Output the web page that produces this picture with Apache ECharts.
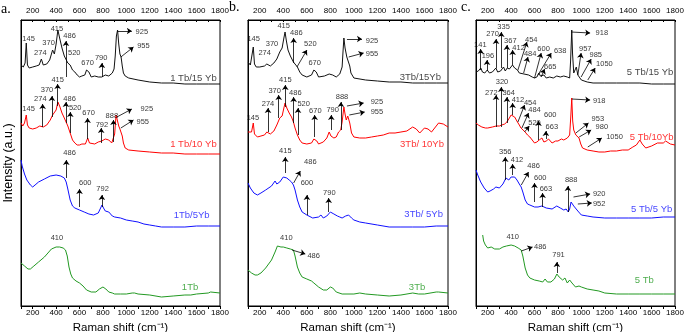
<!DOCTYPE html>
<html>
<head>
<meta charset="utf-8">
<script src="https://cdn.jsdelivr.net/npm/echarts@6/dist/echarts.min.js"></script>
<style>
  html, body { margin: 0; padding: 0; background: #fff; }
  #chart { width: 685px; height: 332px; }
</style>
</head>
<body>
<div id="chart"></div>
<script>
// Raman shift (cm-1) vs. stacked intensity (vertical offset baked in, arbitrary units)
const xLabels = [200, 400, 600, 800, 1000, 1200, 1400, 1600, 1800];

// panel a
const aBlack = [[100,241],[120,239],[135,243],[145,263],[155,241],[170,238],[200,239],[230,240],[255,241],[274,247],[290,241],[320,242],[345,246],[360,252],[370,256],[385,252],[400,262],[415,276],[430,268],[450,258],[470,250],[486,248],[500,243],[510,244],[520,241],[540,236],[560,234],[580,231],[600,229],[620,230],[645,231],[660,236],[670,238],[680,234],[700,229],[730,230],[760,229],[790,229],[820,231],[850,230],[880,233],[895,237],[905,250],[915,270],[925,276],[935,262],[945,252],[955,249],[965,240],[975,233],[990,230],[1020,228],[1100,226],[1200,224],[1300,223],[1400,223],[1500,222],[1600,222],[1700,222],[1800,222]];
const aRed = [[100,183],[115,180],[130,183],[145,191],[155,181],[170,178],[200,177],[230,178],[260,180],[274,181],[290,179],[320,181],[350,186],[370,191],[385,190],[400,196],[415,204],[430,200],[450,193],[470,188],[486,186],[500,180],[520,173],[540,166],[560,163],[580,161],[600,161],[620,162],[650,162],[670,168],[685,163],[700,161],[730,162],[760,164],[790,165],[820,167],[850,166],[875,163],[888,163],[900,172],[912,191],[925,189],[935,180],[945,177],[955,176],[965,170],[975,163],[990,158],[1020,156],[1100,155],[1200,154],[1300,153],[1400,153],[1500,152],[1600,152],[1700,152],[1800,152]];
const aBlue = [[100,146],[110,140],[130,132],[150,126],[180,121],[200,119],[220,121],[250,124],[300,127],[350,130],[400,131],[440,130],[470,128],[486,124],[500,117],[520,106],[540,100],[560,98],[600,96],[640,94],[680,92],[720,91],[760,93],[780,98],[792,101],[805,98],[820,95],[850,94],[880,90],[900,89],[950,88],[1000,86],[1050,85],[1100,84],[1150,82],[1200,81],[1250,80],[1300,79],[1400,79],[1500,79],[1600,80],[1700,80],[1800,80]];
const aGreen = [[100,43],[130,40],[160,37],[180,37],[210,40],[250,44],[300,49],[330,53],[360,57],[400,59],[430,59],[460,58],[480,56],[495,50],[510,39],[525,32],[540,28],[570,25],[600,23],[630,20],[660,16],[700,14],[740,14],[770,17],[800,19],[825,17],[850,14],[880,13],[900,12],[950,12],[1000,12],[1050,13],[1070,13],[1100,12],[1200,11],[1300,9],[1400,10],[1500,11],[1550,11],[1600,12],[1700,13],[1720,14],[1800,13]];

// panel b
const bBlack = [[100,244],[120,241],[135,241],[145,259],[155,242],[170,239],[200,239],[240,240],[260,242],[274,244],[290,240],[320,243],[345,247],[370,254],[390,258],[405,268],[415,274],[425,266],[440,256],[460,250],[486,244],[500,242],[520,239],[540,234],[560,231],[600,229],[640,231],[660,236],[670,238],[680,234],[700,229],[750,230],[790,232],[805,234],[820,231],[850,229],[880,232],[900,239],[908,255],[915,268],[925,258],[940,249],[955,248],[965,240],[975,233],[1000,228],[1100,226],[1200,225],[1300,224],[1400,224],[1500,223],[1600,223],[1700,223],[1800,223]];
const bRed = [[100,174],[115,176],[130,174],[145,183],[155,172],[180,169],[210,170],[240,171],[260,174],[274,176],[290,172],[320,175],[345,181],[370,188],[390,190],[405,198],[415,203],[430,198],[450,193],[470,189],[486,184],[500,178],[520,171],[540,166],[560,163],[600,162],[640,163],[660,167],[670,169],[685,165],[700,162],[740,164],[770,168],[790,174],[805,170],[830,168],[850,169],[870,174],[888,176],[900,184],[915,199],[925,192],[935,186],[948,190],[955,191],[965,183],[980,173],[1000,169],[1050,168],[1100,168],[1150,169],[1200,170],[1250,171],[1300,173],[1350,173],[1400,174],[1450,175],[1500,179],[1530,177],[1560,173],[1600,178],[1630,177],[1660,174],[1700,180],[1720,183],[1760,182],[1800,179]];
const bBlue = [[100,123],[120,118],[150,113],[180,111],[210,113],[250,116],[300,120],[330,125],[345,122],[370,124],[400,129],[415,131],[430,128],[450,126],[470,124],[486,121],[500,116],[520,106],[540,99],[560,94],[600,91],[650,88],[700,89],[720,91],[740,88],[770,90],[800,94],[830,92],[860,90],[880,89],[900,88],[930,90],[955,91],[980,88],[1000,86],[1050,84],[1100,83],[1200,81],[1300,79],[1400,79],[1500,79],[1600,79],[1700,80],[1800,80]];
const bGreen = [[100,36],[130,33],[160,31],[180,31],[210,33],[250,38],[300,46],[330,54],[350,60],[380,59],[400,59],[430,58],[460,57],[486,56],[500,50],[520,39],[540,33],[560,29],[600,27],[640,25],[660,23],[700,19],[740,16],[770,16],[800,19],[820,18],[850,14],[900,12],[950,12],[1000,12],[1050,13],[1100,12],[1200,11],[1300,10],[1400,11],[1500,13],[1550,12],[1600,12],[1700,14],[1720,14],[1800,13]];

// panel c
const cBlack = [[100,234],[120,235],[141,238],[155,234],[175,233],[196,236],[215,233],[240,234],[270,238],[285,234],[310,235],[335,239],[350,235],[367,238],[385,237],[400,239],[412,241],[430,238],[454,236],[470,233],[484,234],[510,232],[550,231],[580,229],[600,228],[620,229],[638,233],[650,230],[665,229],[680,231],[700,228],[730,229],[760,228],[790,230],[820,229],[850,230],[880,229],[900,228],[908,245],[918,276],[925,252],[935,233],[945,232],[957,239],[970,231],[985,229],[1000,226],[1050,224],[1100,223],[1200,223],[1300,223],[1400,223],[1500,223],[1600,222],[1700,222],[1800,222]];
const cRed = [[100,183],[120,181],[150,179],[180,178],[200,178],[240,179],[272,180],[300,180],[320,181],[345,182],[364,184],[385,188],[400,191],[412,193],[430,189],[454,184],[470,181],[484,178],[500,176],[520,174],[540,171],[560,169],[580,166],[600,163],[620,164],[640,166],[663,168],[680,164],[700,165],[720,167],[750,163],[780,165],[800,165],[830,167],[850,166],[880,168],[900,171],[910,190],[918,208],[926,185],[935,176],[953,171],[965,170],[980,168],[995,162],[1010,158],[1050,156],[1100,155],[1150,154],[1200,154],[1250,155],[1300,155],[1350,156],[1400,156],[1440,159],[1470,161],[1500,166],[1520,162],[1550,158],[1600,160],[1650,163],[1700,163],[1720,165],[1760,162],[1800,161]];
const cBlue = [[100,136],[115,131],[140,124],[170,118],[200,114],[220,115],[250,117],[270,119],[300,118],[330,122],[356,128],[380,126],[400,129],[412,131],[430,129],[450,126],[470,122],[486,119],[500,114],[520,106],[540,102],[560,101],[600,99],[630,99],[663,100],[680,98],[700,98],[750,97],[790,100],[820,98],[850,96],[870,97],[888,94],[900,97],[912,104],[920,106],[935,100],[952,98],[970,95],[1000,91],[1050,90],[1100,89],[1200,88],[1300,88],[1400,88],[1500,88],[1600,88],[1700,89],[1800,89]];
const cGreen = [[157,71],[165,65],[180,61],[200,58],[230,59],[260,57],[300,57],[330,59],[360,60],[400,61],[430,60],[460,58],[486,56],[500,50],[520,38],[540,31],[560,28],[600,26],[640,25],[670,24],[690,27],[710,24],[740,24],[770,27],[791,32],[810,29],[840,26],[860,28],[880,23],[900,26],[920,23],[950,19],[980,20],[1000,19],[1050,17],[1100,16],[1150,15],[1200,13],[1300,12],[1400,12],[1500,12],[1600,12],[1700,12],[1800,12]];

// sample names and where they sit
const aNames = [['1 Tb/15 Yb',1573,228],['1 Tb/10 Yb',1573,162],['1Tb/5Yb',1558,91],['1Tb',1544,19]];
const bNames = [['3Tb/15Yb',1565,229],['3Tb/ 10Yb',1579,162],['3Tb/ 5Yb',1593,92],['3Tb',1537,19]];
const cNames = [['5 Tb/15 Yb',1587,234],['5 Tb/10Yb',1601,169],['5 Tb/5 Yb',1601,97],['5 Tb',1538,26]];

// peak labels [text, x, y]
const aPeaks = [['145',165,267],['274',265,253],['370',336,263],['415',407,277],['486',515,270],['520',555,253],['670',669,243],['790',785,248],['925',1132,274],['955',1146,260],
  ['145',165,197],['274',265,207],['370',322,216],['415',413,226],['486',515,207],['520',563,198],['670',677,193],['792',791,181],['888',876,190],['925',1175,197],['955',1140,184],
  ['486',515,153],['600',649,123],['792',797,117],['410',407,68]];
const bPeaks = [['145',148,267],['274',242,253],['370',304,262],['415',403,280],['486',511,273],['520',630,262],['670',667,243],['925',1154,265],['955',1154,252],
  ['145',142,188],['274',270,202],['370',327,215],['415',417,226],['486',502,213],['520',573,202],['670',672,195],['790',820,196],['888',899,209],['925',1196,204],['955',1196,194],
  ['415',417,155],['486',630,144],['600',601,123],['790',791,113],['410',426,68],['486',658,50]];
const cPeaks = [['141',137,261],['196',202,250],['270',242,272],['335',336,279],['367',393,265],['412',464,258],['454',572,266],['484',563,252],['600',677,257],['638',819,255],['665',734,239],['918',1175,273],['957',1033,257],['985',1123,251],['1050',1197,242],
  ['272',231,213],['320',322,224],['364',379,213],['412',458,206],['454',563,203],['484',600,196],['520',600,183],['600',734,191],['663',748,179],['918',1152,205],['953',1141,187],['980',1175,179],['1050',1283,169],
  ['356',350,154],['412',450,146],['486',592,140],['600',649,128],['663',697,117],['888',913,126],['920',1152,112],['952',1152,102],
  ['410',413,69],['486',649,59],['791',805,51]];

// arrows [x0, y0, x1, y1]
const aArrows = [[484,229,484,265],[791,229,791,243],[924,275,1047,275],[953,249,1061,259],
  [285,179,285,202],[364,189,364,210],[413,200,413,222],[484,183,484,204],[521,173,521,194],[669,167,669,188],[785,163,785,178],[890,164,890,186],[919,189,1047,197],[953,178,1061,186],
  [487,128,487,146],[600,99,600,117],[791,99,791,111]];
const bArrows = [[488,243,488,268],[516,239,601,256],[941,267,1069,267],[956,249,1083,253],
  [270,174,270,198],[361,188,361,211],[417,199,417,221],[488,183,488,209],[525,171,525,198],[667,169,667,191],[808,176,808,191],[890,176,890,204],[941,200,1083,203],[961,191,1092,194],
  [417,133,417,149],[488,123,545,135],[601,91,601,111],[786,94,786,108],[474,56,587,52]];
const cArrows = [[140,236,140,257],[194,235,194,246],[271,238,271,267],[316,238,316,274],[364,238,364,261],[413,241,413,256],[458,236,535,264],[507,233,544,249],[600,228,657,253],[629,231,743,253],[657,229,686,237],[913,274,1075,273],[970,231,998,253],[998,229,1084,247],[1055,226,1118,238],
  [271,179,271,211],[316,179,316,219],[364,183,364,209],[413,191,413,203],[458,184,515,201],[492,178,549,193],[515,174,555,180],[634,166,634,185],[697,167,697,175],[919,207,1075,206],[953,173,1061,183],[981,169,1084,176],[1055,159,1175,168],
  [350,126,350,149],[413,131,413,142],[487,121,549,134],[600,104,600,123],[669,99,669,113],[885,94,885,120],[933,109,1075,112],[970,102,1089,103],
  [487,55,583,59],[791,33,791,44]];

const colors = ['#111111', '#ff0000', '#1010ff', '#229922'];
const panels = [
  { traces: [aBlack, aRed, aBlue, aGreen], names: aNames, peaks: aPeaks, arrows: aArrows },
  { traces: [bBlack, bRed, bBlue, bGreen], names: bNames, peaks: bPeaks, arrows: bArrows },
  { traces: [cBlack, cRed, cBlue, cGreen], names: cNames, peaks: cPeaks, arrows: cArrows }
];
const gridLefts = [21, 248, 476];
const gridWidths = [199, 200, 199];
const font = 'Liberation Sans, Arial, sans-serif';

const chart = echarts.init(document.getElementById('chart'), null, { renderer: 'canvas' });

const grids = [], xAxes = [], yAxes = [], series = [];
panels.forEach((p, i) => {
  grids.push({
    left: gridLefts[i], width: gridWidths[i], top: 20, height: 286,
    show: true, borderColor: '#000', borderWidth: 1, backgroundColor: 'transparent',
    containLabel: false, outerBoundsMode: 'none'
  });
  const base = {
    type: 'value', gridIndex: i, min: 100, max: 1800, interval: 100,
    axisLine: { show: true, onZero: false, lineStyle: { color: '#000', width: 1 } },
    axisTick: { show: true, length: 3, lineStyle: { color: '#000', width: 1 } },
    splitLine: { show: false },
    axisLabel: {
      color: '#000', fontSize: 8, fontFamily: font, margin: 3, hideOverlap: false,
      formatter: v => (xLabels.indexOf(v) >= 0 ? String(v) : '')
    }
  };
  xAxes.push(Object.assign({}, base, {
    position: 'bottom',
    name: 'Raman shift (cm⁻¹)', nameLocation: 'middle', nameGap: 13,
    nameTextStyle: { color: '#000', fontSize: 11.5, fontFamily: font }
  }));
  xAxes.push(Object.assign({}, base, {
    position: 'top',
    axisTick: { show: true, inside: true, length: 2, lineStyle: { color: '#000', width: 1 } },
    axisLabel: Object.assign({}, base.axisLabel, { margin: 5 })
  }));
  yAxes.push({
    type: 'value', gridIndex: i, min: 0, max: 286,
    axisLine: { show: true, lineStyle: { color: '#000' } },
    axisTick: { show: false }, axisLabel: { show: false }, splitLine: { show: false },
    name: i === 0 ? 'Intensity (a.u.)' : '', nameLocation: 'middle', nameRotate: 90, nameGap: 6,
    nameTextStyle: { color: '#000', fontSize: 12.5, fontFamily: font }
  });

  p.traces.forEach((tr, k) => {
    series.push({
      type: 'line', xAxisIndex: 2 * i, yAxisIndex: i, data: tr,
      showSymbol: false, silent: true, animation: false,
      lineStyle: { color: colors[k], width: 1 }
    });
  });

  series.push({
    type: 'lines', coordinateSystem: 'cartesian2d', xAxisIndex: 2 * i, yAxisIndex: i,
    symbol: ['none', 'arrow'], symbolSize: [0, 5], silent: true, animation: false, z: 5,
    lineStyle: { color: '#000', width: 0.8, opacity: 1, curveness: 0 },
    data: p.arrows.map(a => ({ coords: [[a[0], a[1]], [a[2], a[3]]] }))
  });

  series.push({
    type: 'scatter', xAxisIndex: 2 * i, yAxisIndex: i, symbolSize: 0, silent: true, animation: false, z: 6,
    data: p.peaks.map(l => ({ name: l[0], value: [l[1], l[2]] })),
    label: { show: true, position: 'inside', formatter: '{b}', color: '#000', fontSize: 7.5, fontFamily: font }
  });

  series.push({
    type: 'scatter', xAxisIndex: 2 * i, yAxisIndex: i, symbolSize: 0, silent: true, animation: false, z: 6,
    data: p.names.map((l, k) => ({ name: l[0], value: [l[1], l[2]], label: { color: colors[k] } })),
    label: { show: true, position: 'inside', formatter: '{b}', fontSize: 9.5, fontFamily: font }
  });
});

chart.setOption({
  backgroundColor: '#fff',
  animation: false,
  grid: grids,
  xAxis: xAxes,
  yAxis: yAxes,
  series: series,
  graphic: [
    { type: 'text', left: 1, top: 2, style: { text: 'a.', fontSize: 14, fontFamily: 'Liberation Serif, serif', fill: '#000' } },
    { type: 'text', left: 229, top: 0, style: { text: 'b.', fontSize: 14, fontFamily: 'Liberation Serif, serif', fill: '#000' } },
    { type: 'text', left: 461, top: 0, style: { text: 'c.', fontSize: 14, fontFamily: 'Liberation Serif, serif', fill: '#000' } }
  ]
});

window.addEventListener('resize', () => chart.resize());
</script>
</body>
</html>
